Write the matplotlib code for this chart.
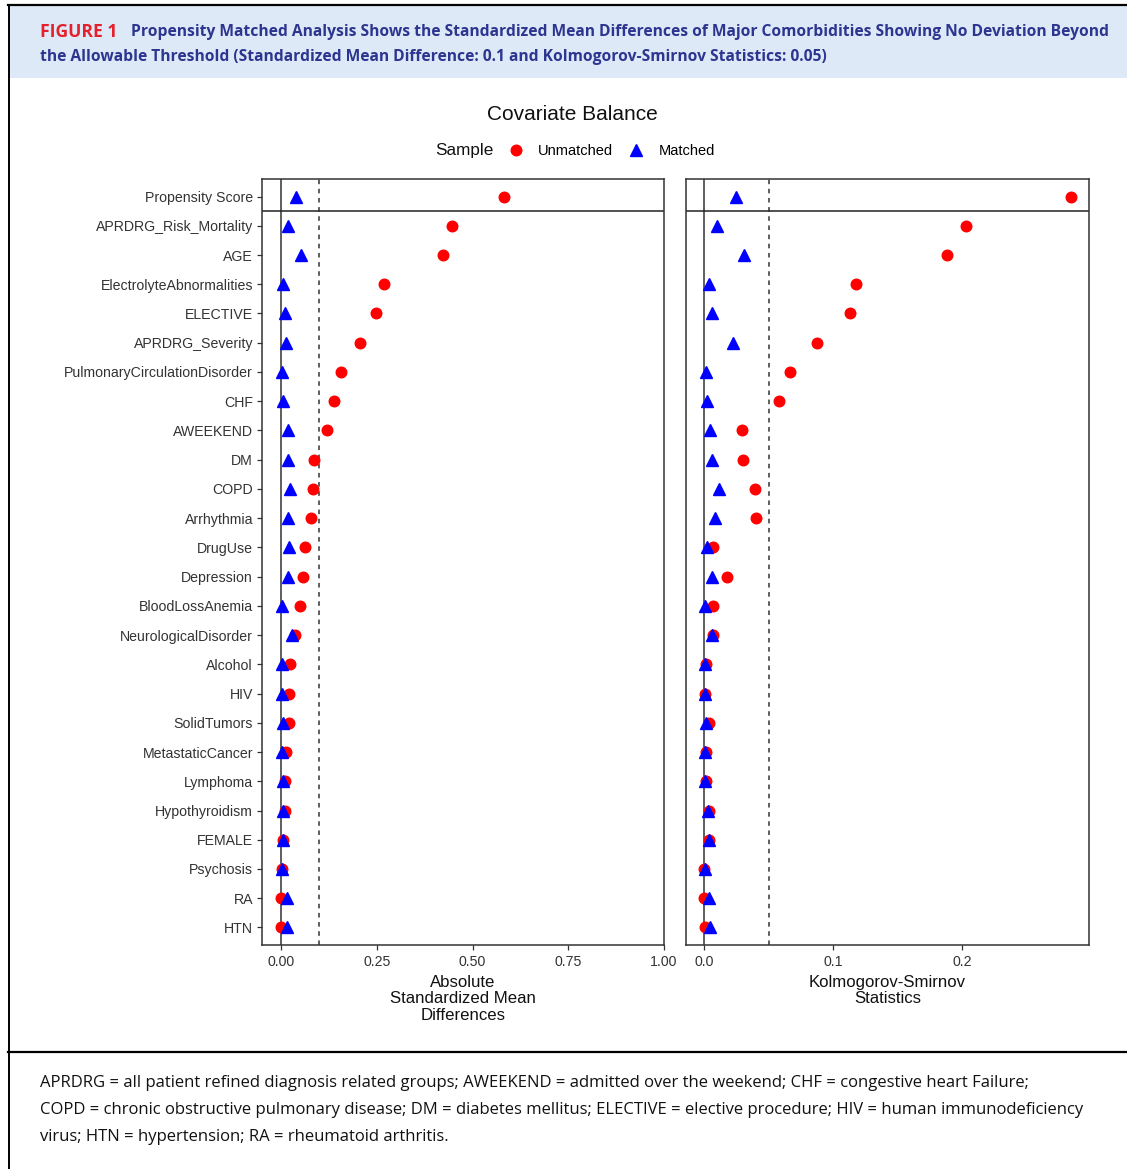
import matplotlib
matplotlib.use("Agg")
import matplotlib.pyplot as plt
from matplotlib import font_manager
from matplotlib.lines import Line2D
from matplotlib.patches import Rectangle
import numpy as np

# covariates, top to bottom
covariates = ["Propensity Score", "APRDRG_Risk_Mortality", "AGE", "ElectrolyteAbnormalities",
              "ELECTIVE", "APRDRG_Severity", "PulmonaryCirculationDisorder", "CHF", "AWEEKEND",
              "DM", "COPD", "Arrhythmia", "DrugUse", "Depression", "BloodLossAnemia",
              "NeurologicalDisorder", "Alcohol", "HIV", "SolidTumors", "MetastaticCancer",
              "Lymphoma", "Hypothyroidism", "FEMALE", "Psychosis", "RA", "HTN"]

# absolute standardized mean differences
smd_unmatched = [0.582, 0.447, 0.422, 0.269, 0.247, 0.205, 0.156, 0.138, 0.120, 0.085, 0.082,
                 0.079, 0.062, 0.058, 0.049, 0.036, 0.023, 0.020, 0.020, 0.012, 0.010, 0.010,
                 0.006, 0.001, 0.000, 0.000]
smd_matched = [0.038, 0.017, 0.051, 0.006, 0.010, 0.013, 0.002, 0.004, 0.017, 0.017, 0.023,
               0.017, 0.020, 0.019, 0.003, 0.028, 0.002, 0.002, 0.004, 0.002, 0.006, 0.005,
               0.004, 0.003, 0.014, 0.014]

# Kolmogorov-Smirnov statistics
ks_unmatched = [0.284, 0.203, 0.188, 0.1175, 0.113, 0.087, 0.0667, 0.058, 0.0294, 0.0301,
                0.0394, 0.0402, 0.0067, 0.0173, 0.0067, 0.0065, 0.001, 0.0008, 0.004, 0.001,
                0.001, 0.004, 0.0039, 0.0, 0.0, 0.0003]
ks_matched = [0.0247, 0.0095, 0.031, 0.0033, 0.006, 0.0224, 0.0013, 0.0018, 0.0041, 0.0057,
              0.011, 0.0085, 0.0018, 0.0057, 0.0008, 0.0057, 0.0003, 0.0003, 0.001, 0.0008,
              0.0008, 0.0028, 0.0036, 0.0003, 0.0033, 0.0046]

smd_ticks = [0, 0.25, 0.5, 0.75, 1.0]
smd_ticklabels = ["0.00", "0.25", "0.50", "0.75", "1.00"]
ks_ticks = [0, 0.1, 0.2]
ks_ticklabels = ["0.0", "0.1", "0.2"]

header_tag = "FIGURE 1"
header_lines = ["Propensity Matched Analysis Shows the Standardized Mean Differences of Major Comorbidities Showing No Deviation Beyond",
                "the Allowable Threshold (Standardized Mean Difference: 0.1 and Kolmogorov-Smirnov Statistics: 0.05)"]
footer_lines = ["APRDRG = all patient refined diagnosis related groups; AWEEKEND = admitted over the weekend; CHF = congestive heart Failure;",
                "COPD = chronic obstructive pulmonary disease; DM = diabetes mellitus; ELECTIVE = elective procedure; HIV = human immunodeficiency",
                "virus; HTN = hypertension; RA = rheumatoid arthritis."]

W, H = 1127, 1169
plt.rcParams["font.family"] = ["Liberation Sans", "DejaVu Sans"]
names = {f.name for f in font_manager.fontManager.ttflist}
caption_font = "Liberation Sans Narrow" if "Liberation Sans Narrow" in names else "Open Sans"

fig = plt.figure(figsize=(W / 100, H / 100), dpi=100)
renderer = fig.canvas.get_renderer()


def fx(px):
    return px / W


def fy(py):
    return 1 - py / H


def fit_width(t, target_px):
    w = t.get_window_extent(renderer=renderer).width
    t.set_fontsize(t.get_fontsize() * target_px / w)
    return t.get_fontsize()


# frame around the figure block
fig.add_artist(Rectangle((fx(9), fy(78)), fx(W - 9), 72 / H, transform=fig.transFigure,
                         facecolor="#dde9f6", edgecolor="none", zorder=0))
fig.add_artist(Line2D([fx(8), 1], [fy(5), fy(5)], transform=fig.transFigure, color="black", lw=1.6))
fig.add_artist(Line2D([fx(8.5), fx(8.5)], [fy(5), 0], transform=fig.transFigure, color="black", lw=1.4))
fig.add_artist(Line2D([fx(8), 1], [fy(1052), fy(1052)], transform=fig.transFigure, color="black", lw=1.6))

# header
tag = fig.text(fx(40), fy(32), header_tag, color="#e3202c", fontweight="bold",
               family=caption_font, fontsize=11, va="center")
fit_width(tag, 77)
h1 = fig.text(fx(131), fy(32), header_lines[0], color="#2d3590", fontweight="bold",
              family=caption_font, fontsize=11, va="center")
hs = fit_width(h1, 977)
fig.text(fx(40), fy(57), header_lines[1], color="#2d3590", fontweight="bold",
         family=caption_font, fontsize=hs, va="center")

# footer
f2 = fig.text(fx(40), fy(1110), footer_lines[1], color="#111111", family=caption_font,
              fontsize=11, va="center")
fs = fit_width(f2, 1048)
fig.text(fx(40), fy(1083), footer_lines[0], color="#111111", family=caption_font, fontsize=fs, va="center")
fig.text(fx(40), fy(1137), footer_lines[2], color="#111111", family=caption_font, fontsize=fs, va="center")

# chart title and legend
fig.text(fx(572), fy(114), "Covariate Balance", fontsize=15, ha="center", va="center", color="#111111")
fig.text(fx(435), fy(151), "Sample", fontsize=12.3, ha="left", va="center", color="#111111")
handles = [Line2D([], [], ls="none", marker="o", color="#ff0000", markersize=7.6),
           Line2D([], [], ls="none", marker="^", color="#0000ff", markersize=8.5)]
fig.legend(handles, ["Unmatched", "Matched"], loc="center left", ncol=2,
           bbox_to_anchor=(fx(507), fy(151)), frameon=False, fontsize=10.5,
           handlelength=1.2, handletextpad=0.9, columnspacing=1.02, borderpad=0, borderaxespad=0)

ypos = np.arange(len(covariates))
panels = [
    (fx(262), fx(402), smd_unmatched, smd_matched, 0.1, (-0.05, 1.0), smd_ticks, smd_ticklabels,
     "Absolute\nStandardized Mean\nDifferences"),
    (fx(686), fx(403), ks_unmatched, ks_matched, 0.05, (-0.0142, 0.298), ks_ticks, ks_ticklabels,
     "Kolmogorov-Smirnov\nStatistics"),
]

for i, (left, width, unm, mat, thr, xlim, ticks, tlabels, xlabel) in enumerate(panels):
    ax = fig.add_axes([left, fy(945), width, 766 / H])
    ax.axvline(0, color="#333333", lw=1.1, zorder=1)
    ax.axvline(thr, color="#333333", lw=1.1, ls=(0, (3, 3)), zorder=1)
    ax.axhline(0.5, color="#222222", lw=1.1, zorder=1)
    ax.plot(unm, ypos, ls="none", marker="o", color="#ff0000", markersize=7.6, zorder=3)
    ax.plot(mat, ypos, ls="none", marker="^", color="#0000ff", markersize=8.5, zorder=4)
    ax.set_xlim(*xlim)
    ax.set_ylim(len(covariates) - 0.4, -0.6)
    ax.set_xticks(ticks)
    ax.set_xticklabels(tlabels)
    ax.set_yticks(ypos)
    ax.tick_params(axis="both", labelsize=10.2, colors="#333333", length=3.5, width=0.9, pad=3)
    ax.tick_params(axis="x", pad=4)
    if i == 0:
        ax.set_yticklabels(covariates)
    else:
        ax.set_yticklabels([])
        ax.tick_params(axis="y", length=0)
    for sp in ax.spines.values():
        sp.set_color("#333333")
        sp.set_linewidth(1.1)
    ax.set_xlabel(xlabel, fontsize=12.1, color="#111111", linespacing=1.12, labelpad=4)

fig.savefig("out.png", dpi=100)
